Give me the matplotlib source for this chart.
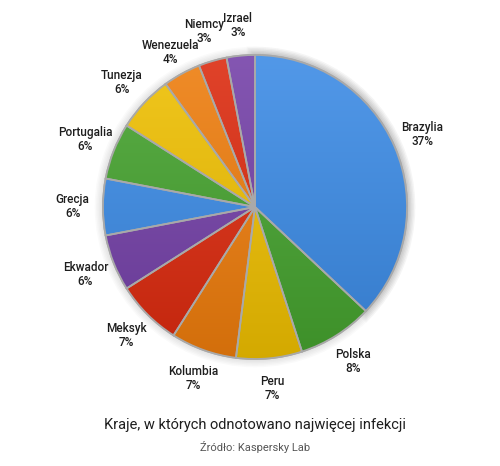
import matplotlib.pyplot as plt
import matplotlib.colors as mcolors
import numpy as np
from matplotlib.patches import Wedge, Circle

countries = ['Brazylia', 'Polska', 'Peru', 'Kolumbia', 'Meksyk', 'Ekwador',
             'Grecja', 'Portugalia', 'Tunezja', 'Wenezuela', 'Niemcy', 'Izrael']
shares = [37, 8, 7, 7, 7, 6, 6, 6, 6, 4, 3, 3]
colors = ['#3b8be6', '#45a32e', '#f0c000', '#ef7d0c', '#dd2a0e', '#7440a8',
          '#3b8be6', '#45a32e', '#f0c000', '#ef7d0c', '#dd2a0e', '#7440a8']
explode = [0.04] + [0] * 11

title = 'Kraje, w których odnotowano najwięcej infekcji'
source = 'Źródło: Kaspersky Lab'

plt.rcParams['font.family'] = ['Roboto', 'DejaVu Sans']

fig = plt.figure(figsize=(5.0, 4.66), dpi=100)
ax = fig.add_axes([0, 0, 1, 1])

labels = [f'{c}\n{v}%' for c, v in zip(countries, shares)]
wedges, texts = ax.pie(shares, labels=labels, colors=colors, explode=explode,
                       radius=152, center=(255, 259), startangle=90,
                       counterclock=False, labeldistance=1.2, frame=True,
                       wedgeprops=dict(edgecolor='#a9a9a9', linewidth=1.3),
                       textprops=dict(fontsize=8.5, color='#1e1e1e',
                                      fontweight='medium'))
ax.set_xlim(0, 500)
ax.set_ylim(0, 466)
ax.set_aspect('equal')
ax.axis('off')

for t in texts:
    t.set_horizontalalignment('center')
    t.set_multialignment('center')
    t.set_linespacing(1.1)

# Wenezuela label sits a little closer to the pie
x, y = texts[9].get_position()
texts[9].set_position((255 + (x - 255) * 1.16 / 1.2, 259 + (y - 259) * 1.16 / 1.2))


def shade(c, f):
    rgb = np.array(mcolors.to_rgb(c))
    if f > 0:
        return rgb + (1 - rgb) * f
    return rgb * (1 + f)


# top-light / bottom-dark gradient inside every slice
for w, c in zip(wedges, colors):
    cx, cy = w.center
    top = shade(c, 0.12)
    bot = shade(c, -0.12)
    tt = np.linspace(0, 1, 64)[:, None]
    grad = (top[None, :] * (1 - tt) + bot[None, :] * tt)[:, None, :]
    im = ax.imshow(grad, extent=(cx - 160, cx + 160, cy - 160, cy + 160),
                   origin='upper', aspect='auto', zorder=w.get_zorder() + 0.1,
                   interpolation='bilinear')
    im.set_clip_path(w)
    edge = Wedge(w.center, w.r, w.theta1, w.theta2, facecolor='none',
                 edgecolor='#a9a9a9', linewidth=1.3, zorder=w.get_zorder() + 0.2)
    ax.add_patch(edge)
ax.set_xlim(0, 500)
ax.set_ylim(0, 466)

# soft shadow around the pie
for lw in range(2, 14, 2):
    ax.add_patch(Circle((255, 259), 152, facecolor='none', edgecolor='black',
                        linewidth=lw, alpha=0.02, zorder=0))
    b = wedges[0]
    ax.add_patch(Wedge(b.center, b.r, b.theta1, b.theta2, facecolor='none',
                       edgecolor='black', linewidth=lw, alpha=0.02, zorder=0))

ax.text(255, 466 - 425, title, ha='center', va='center', fontsize=10.5,
        color='#1e1e1e')
ax.text(255, 466 - 447, source, ha='center', va='center', fontsize=8,
        color='#555555')

fig.savefig('out.png', dpi=100)
